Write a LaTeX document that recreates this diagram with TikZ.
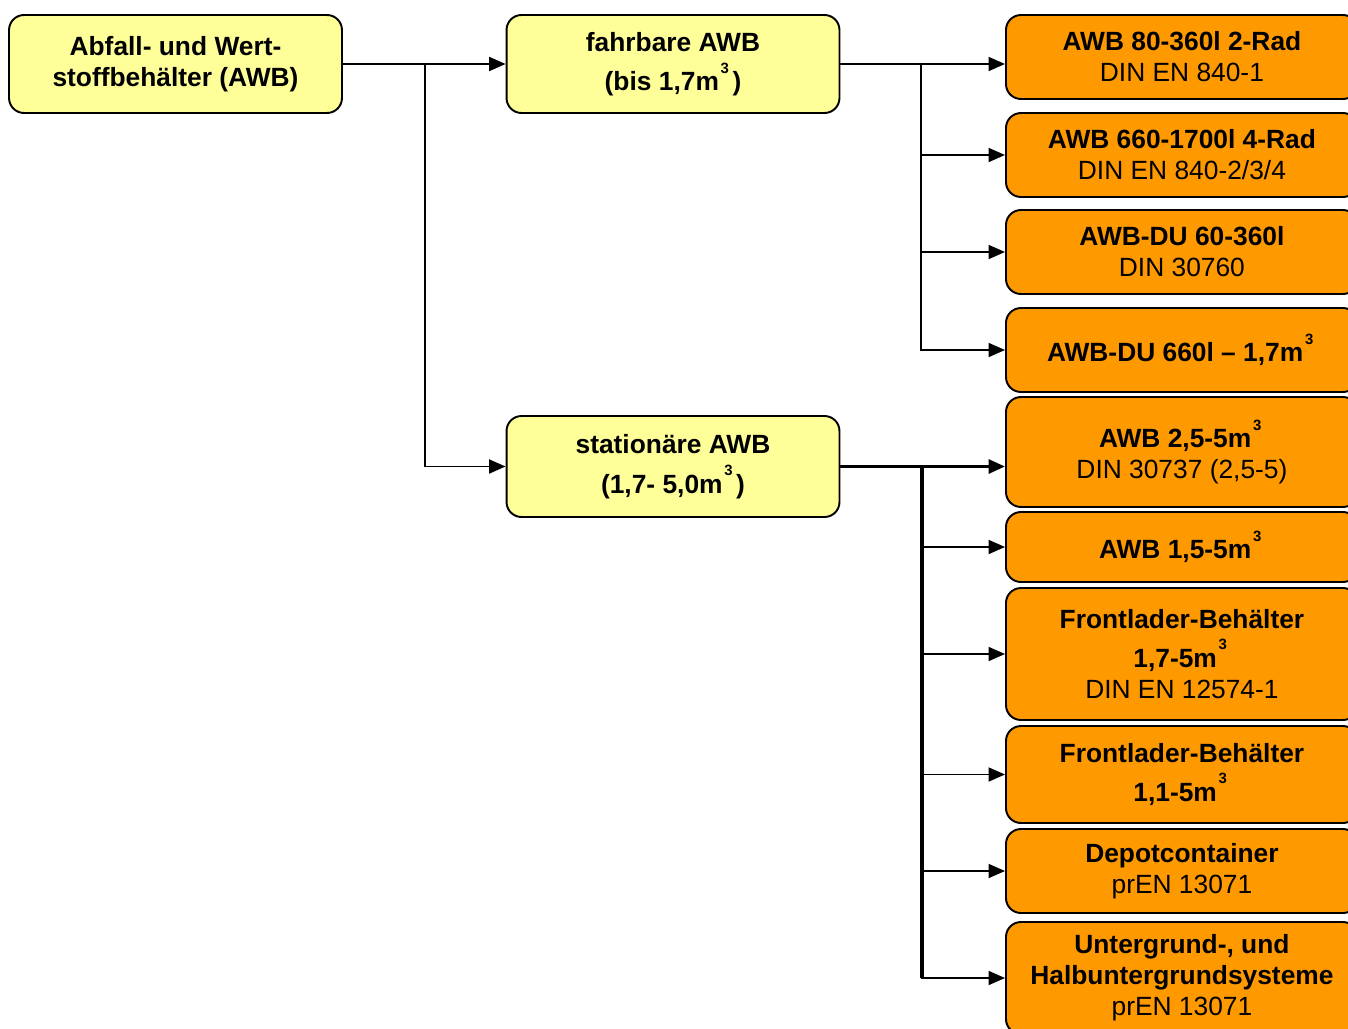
\documentclass[tikz,border=0pt]{standalone}
\usepackage{fontspec}
\setmainfont{Liberation Sans}
\usepackage{xcolor}
\usetikzlibrary{calc, positioning, arrows.meta}
\definecolor{awbgelb}{HTML}{FFFF99}
\definecolor{awborange}{HTML}{FF9900}
\newcommand{\kubik}{m\kern1pt\raisebox{10pt}{\fontsize{8.5}{8.5}\selectfont 3}\kern2pt}

\begin{document}
\begin{tikzpicture}[x=0.02cm, y=-0.02cm,
	box/.style={draw, line width=1.1pt, rounded corners=0.3cm, align=center,
		inner sep=0pt, font=\fontsize{15}{17.6}\selectfont},
	gruppe/.style={box, fill=awbgelb, minimum width=6.66cm, font=\bfseries\fontsize{15}{18}\selectfont},
	typ/.style={box, fill=awborange, anchor=west, minimum width=7.04cm},
	pfeil/.style={-{Triangle[length=0.33cm,width=0.28cm]}, line width=1.1pt}]

	\useasboundingbox (0,0) rectangle (1348,1028);

		% nodes - groups %
		\node[gruppe, minimum height=1.96cm] (awb) at (175.5,64) {Abfall- und Wert-\\stoffbeh\"alter (AWB)};
		\node[gruppe, minimum height=1.96cm] (fahr) at (673,64) {fahrbare AWB\\[4.5pt](bis 1,7\kubik)};
		\node[gruppe, minimum height=2.02cm] (stat) at (673,466.5) {station\"are AWB\\[4.5pt](1,7- 5,0\kubik)};

		% nodes - fahrbare AWB %
		\node[typ, minimum height=1.68cm] (f1) at (1005,57) {\textbf{AWB 80-360l 2-Rad}\\DIN EN 840-1};
		\node[typ, minimum height=1.68cm] (f2) at (1005,155) {\textbf{AWB 660-1700l 4-Rad}\\DIN EN 840-2/3/4};
		\node[typ, minimum height=1.68cm] (f3) at (1005,252) {\textbf{AWB-DU 60-360l}\\DIN 30760};
		\node[typ, minimum height=1.68cm] (f4) at (1005,350) {\textbf{AWB-DU 660l -- 1,7\kubik}};

		% nodes - stationaere AWB %
		\node[typ, minimum height=2.2cm] (s1) at (1005,452) {\textbf{AWB 2,5-5\kubik}\\DIN 30737 (2,5-5)};
		\node[typ, minimum height=1.4cm] (s2) at (1005,547) {\textbf{AWB 1,5-5\kubik}};
		\node[typ, minimum height=2.64cm] (s3) at (1005,654) {\textbf{Frontlader-Beh\"alter}\\[4.5pt]\textbf{1,7-5\kubik}\\DIN EN 12574-1};
		\node[typ, minimum height=1.94cm] (s4) at (1005,774.5) {\textbf{Frontlader-Beh\"alter}\\[4.5pt]\textbf{1,1-5\kubik}};
		\node[typ, minimum height=1.68cm] (s5) at (1005,871) {\textbf{Depotcontainer}\\prEN 13071};
		\node[typ, minimum height=2.24cm] (s6) at (1005,978) {\textbf{Untergrund-, und}\\\textbf{Halbuntergrundsysteme}\\prEN 13071};

		% junctions %
		\coordinate (j0) at (425,64);
		\coordinate (j1) at (921,64);
		\coordinate (j2) at (922,466.5);

		% edges %
		\draw[pfeil] (awb) -- (fahr);
		\draw[pfeil] (j0) |- (stat);
		\draw[pfeil] (fahr) -- (f1.west |- fahr);
		\foreach \n in {f2,f3,f4}
			\draw[pfeil] (j1) |- (\n.west);
		\draw[pfeil, line width=1.8pt] (stat) -- (s1.west |- stat);
		\draw[line width=2.2pt] (j2) -- (j2 |- s6.west);
		\foreach \n in {s2,s3,s4,s5,s6}
			\draw[pfeil] (j2) |- (\n.west);

\end{tikzpicture}
\end{document}
